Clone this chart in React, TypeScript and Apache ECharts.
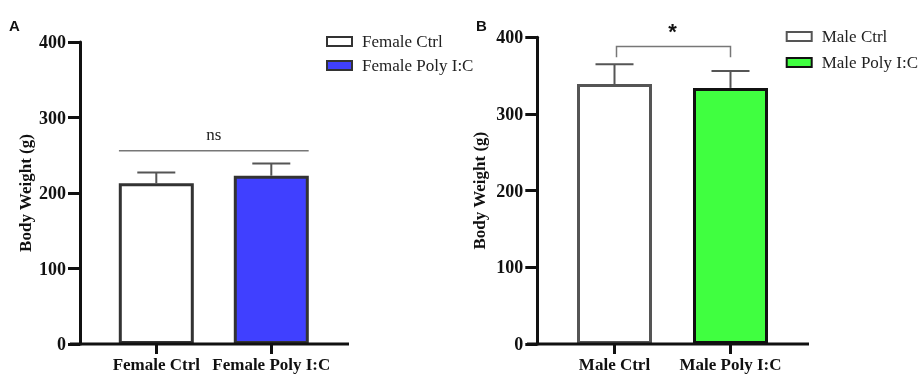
import React, { useEffect, useRef } from "react";
import * as echarts from "echarts";

const femaleCategories = ["Female Ctrl", "Female Poly I:C"];
const femaleMeans = [213, 223];
const femaleUpper = [227, 239];
const maleCategories = ["Male Ctrl", "Male Poly I:C"];
const maleMeans = [339, 334];
const maleUpper = [365, 356];
const yTicks = [0, 100, 200, 300, 400];
const femaleSigLevel = 256;
const maleSigLevel = 388;
const maleSigDrop = 374;

const SERIF = "'Liberation Serif', 'Times New Roman', serif";
const SANS = "'Liberation Sans', Arial, sans-serif";

export default function App() {
  const ref = useRef<HTMLDivElement>(null);
  useEffect(() => {
    document.body.style.margin = "0";
    const chart = echarts.init(ref.current!, undefined, { renderer: "svg" });

    const yAxisBase = (gridIndex: number, offset: number, nameGap: number) => ({
      type: "value",
      gridIndex,
      min: yTicks[0],
      max: yTicks[yTicks.length - 1],
      interval: 100,
      offset,
      name: "Body Weight (g)",
      nameLocation: "middle",
      nameRotate: 90,
      nameGap,
      nameTextStyle: { fontFamily: SERIF, fontWeight: "bold", fontSize: 17, color: "#111" },
      axisLine: { show: true, lineStyle: { color: "#111", width: 3 } },
      axisTick: { show: true, length: 12, lineStyle: { color: "#111", width: 3 } },
      axisLabel: { margin: 14, fontFamily: SERIF, fontWeight: "bold", fontSize: 18, color: "#111" },
      splitLine: { show: false },
    });
    const xAxisBase = (gridIndex: number, data: string[]) => ({
      type: "category",
      gridIndex,
      data,
      axisLine: { show: false },
      axisTick: { show: true, alignWithLabel: true, length: 10, lineStyle: { color: "#111", width: 3 } },
      axisLabel: { interval: 0, hideOverlap: false, margin: 12, fontFamily: SERIF, fontWeight: "bold", fontSize: 17, color: "#111" },
    });

    const errRender = (params: any, api: any) => {
      const x = api.value(0);
      const top = api.coord([x, api.value(2)]);
      const base = api.coord([x, api.value(1)]);
      const half = 19;
      return {
        type: "group",
        children: [
          { type: "line", shape: { x1: base[0], y1: base[1], x2: top[0], y2: top[1] }, style: { stroke: "#555", lineWidth: 2 } },
          { type: "line", shape: { x1: top[0] - half, y1: top[1], x2: top[0] + half, y2: top[1] }, style: { stroke: "#555", lineWidth: 2 } },
        ],
      };
    };

    const nsRender = (params: any, api: any) => {
      const a = api.coord([api.value(0), api.value(2)]);
      const b = api.coord([api.value(1), api.value(2)]);
      const bw = api.size([1, 0])[0] * 0.65;
      return {
        type: "group",
        children: [
          { type: "line", shape: { x1: a[0] - bw / 2, y1: a[1], x2: b[0] + bw / 2, y2: b[1] }, style: { stroke: "#777", lineWidth: 1.5 } },
          { type: "text", x: (a[0] + b[0]) / 2, y: a[1] - 16, style: { text: "ns", fontFamily: SERIF, fontSize: 17, fill: "#222", align: "center", verticalAlign: "middle" } },
        ],
      };
    };

    const starRender = (params: any, api: any) => {
      const a = api.coord([api.value(0), api.value(2)]);
      const b = api.coord([api.value(1), api.value(2)]);
      const d = api.coord([api.value(0), api.value(3)]);
      return {
        type: "group",
        children: [
          { type: "polyline", shape: { points: [[a[0] + 2, d[1]], [a[0] + 2, a[1]], [b[0], b[1]], [b[0], d[1]]] }, style: { stroke: "#777", lineWidth: 1.5, fill: null } },
          { type: "text", x: (a[0] + b[0]) / 2, y: a[1] - 15, style: { text: "*", fontFamily: SANS, fontWeight: "bold", fontSize: 22, fill: "#111", align: "center", verticalAlign: "middle" } },
        ],
      };
    };

    const legendText = { fontFamily: SERIF, fontSize: 17, color: "#222", padding: [0, 0, 0, 5] };

    chart.setOption({
      animation: false,
      grid: [
        { left: 98.8, top: 42, width: 230, height: 302, outerBoundsMode: "none", containLabel: false },
        { left: 556.5, top: 37.3, width: 232, height: 306.7, outerBoundsMode: "none", containLabel: false },
      ],
      xAxis: [xAxisBase(0, femaleCategories), xAxisBase(1, maleCategories)],
      yAxis: [yAxisBase(0, 18.8, 46), yAxisBase(1, 19.2, 49)],
      legend: [
        {
          data: ["Female Ctrl", "Female Poly I:C"],
          orient: "vertical",
          left: 321,
          top: 28,
          icon: "rect",
          itemWidth: 25,
          itemHeight: 9,
          itemGap: 7,
          textStyle: legendText,
          selectedMode: false,
        },
        {
          data: ["Male Ctrl", "Male Poly I:C"],
          orient: "vertical",
          left: 780.7,
          top: 23,
          icon: "rect",
          itemWidth: 25,
          itemHeight: 9,
          itemGap: 9,
          textStyle: legendText,
          selectedMode: false,
        },
      ],
      graphic: [
        { type: "line", shape: { x1: 70, y1: 344, x2: 349, y2: 344 }, style: { stroke: "#111", lineWidth: 3 }, z: 10 },
        { type: "line", shape: { x1: 527, y1: 344, x2: 809, y2: 344 }, style: { stroke: "#111", lineWidth: 3 }, z: 10 },
        { type: "text", left: 9, top: 18, style: { text: "A", fontFamily: SANS, fontWeight: "bold", fontSize: 15, fill: "#111" } },
        { type: "text", left: 476, top: 18, style: { text: "B", fontFamily: SANS, fontWeight: "bold", fontSize: 15, fill: "#111" } },
      ],
      series: [
        {
          name: "Female Ctrl", type: "bar", xAxisIndex: 0, yAxisIndex: 0, barWidth: 75, barGap: "-100%",
          data: [femaleMeans[0], "-"],
          itemStyle: { color: "#ffffff", borderColor: "#333", borderWidth: 3 },
        },
        {
          name: "Female Poly I:C", type: "bar", xAxisIndex: 0, yAxisIndex: 0, barWidth: 75, barGap: "-100%",
          data: ["-", femaleMeans[1]],
          itemStyle: { color: "#4040ff", borderColor: "#333", borderWidth: 3 },
        },
        {
          name: "Male Ctrl", type: "bar", xAxisIndex: 1, yAxisIndex: 1, barWidth: 75, barGap: "-100%",
          data: [maleMeans[0], "-"],
          itemStyle: { color: "#ffffff", borderColor: "#555", borderWidth: 3 },
        },
        {
          name: "Male Poly I:C", type: "bar", xAxisIndex: 1, yAxisIndex: 1, barWidth: 75, barGap: "-100%",
          data: ["-", maleMeans[1]],
          itemStyle: { color: "#40ff40", borderColor: "#111", borderWidth: 3 },
        },
        {
          type: "custom", xAxisIndex: 0, yAxisIndex: 0, z: 1, renderItem: errRender,
          data: femaleMeans.map((m, i) => [i, m, femaleUpper[i]]),
        },
        {
          type: "custom", xAxisIndex: 1, yAxisIndex: 1, z: 1, renderItem: errRender,
          data: maleMeans.map((m, i) => [i, m, maleUpper[i]]),
        },
        {
          type: "custom", xAxisIndex: 0, yAxisIndex: 0, renderItem: nsRender,
          data: [[0, 1, femaleSigLevel]],
        },
        {
          type: "custom", xAxisIndex: 1, yAxisIndex: 1, renderItem: starRender,
          data: [[0, 1, maleSigLevel, maleSigDrop]],
        },
      ],
    });
    return () => chart.dispose();
  }, []);
  return <div ref={ref} style={{ position: "fixed", left: 0, top: 0, width: 921, height: 374 }} />;
}
